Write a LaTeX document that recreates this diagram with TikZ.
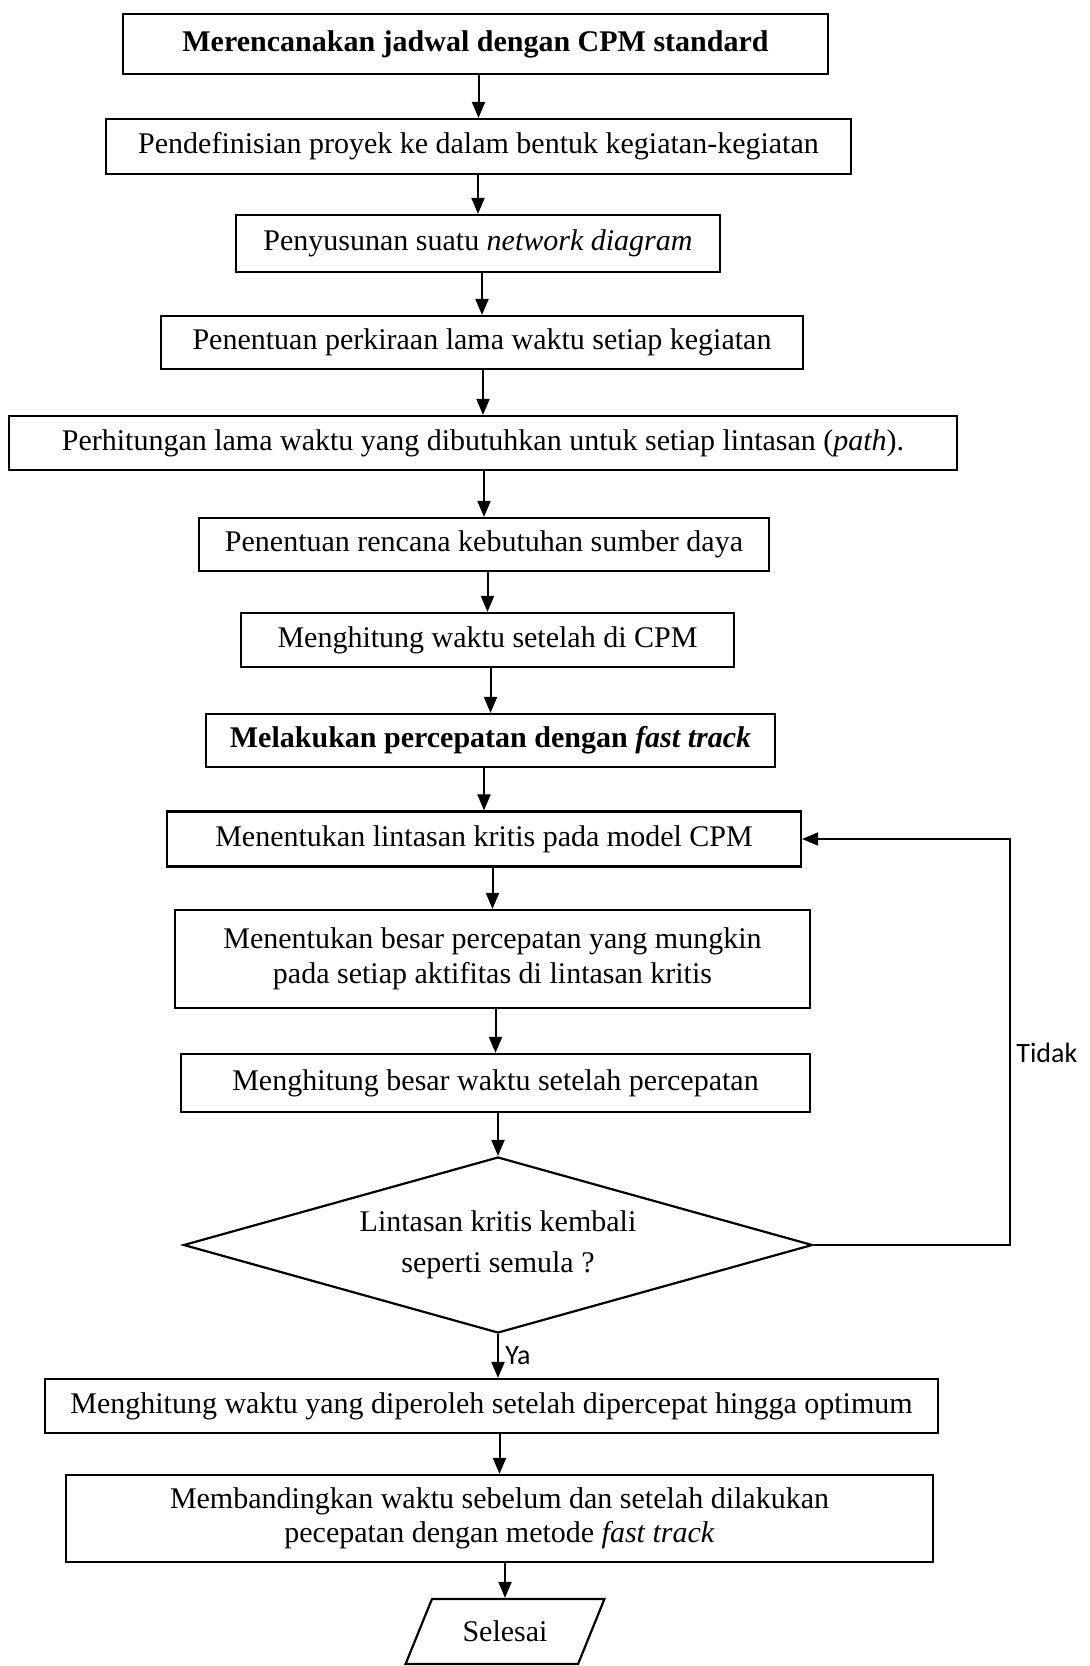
\documentclass[tikz,border=0pt]{standalone}
\usepackage{fontspec}
\setmainfont{Liberation Serif}
\newfontfamily\labelfont{Carlito}
\usetikzlibrary{positioning, shapes.geometric, arrows.meta}
\tikzset{
    block/.style={
        draw, line width=1.1pt,
        inner sep=2pt,
        align=center,
        font=\fontsize{15}{17}\selectfont
    },
    decision/.style={block, diamond, aspect=3.6, inner sep=0pt},
    finish/.style={block, trapezium, trapezium left angle=54,
        trapezium right angle=126, trapezium stretches=true, inner sep=0pt},
    line/.style={line width=1pt, -{Triangle[length=8pt,width=6.5pt]}},
    tag/.style={font=\labelfont\fontsize{14}{16}\selectfont, inner sep=1pt}
}

\begin{document}
\begin{tikzpicture}[x=0.5pt, y=-0.5pt]

    \useasboundingbox (0,0) rectangle (1089,1666);

    % CPM standard
    \node[block, minimum width=352.5pt, minimum height=30pt] (plan) at (475.5,44)
        {\bfseries Merencanakan jadwal dengan CPM standard};
    \node[block, minimum width=372.5pt, minimum height=27.5pt] (define) at (478.5,146.5)
        {Pendefinisian proyek ke dalam bentuk kegiatan-kegiatan};
    \node[block, minimum width=242pt, minimum height=28.5pt] (network) at (478,243.5)
        {Penyusunan suatu \textit{network diagram}};
    \node[block, minimum width=321pt, minimum height=26.5pt] (estimate) at (482,342.5)
        {Penentuan perkiraan lama waktu setiap kegiatan};
    \node[block, minimum width=474pt, minimum height=27pt] (pathtime) at (483,443)
        {Perhitungan lama waktu yang dibutuhkan untuk setiap lintasan (\textit{path}).};
    \node[block, minimum width=285pt, minimum height=26.5pt] (resource) at (484,544.5)
        {Penentuan rencana kebutuhan sumber daya};
    \node[block, minimum width=246.5pt, minimum height=27pt] (cpmtime) at (487.5,640)
        {Menghitung waktu setelah di CPM};

    % Fast track
    \node[block, minimum width=284.5pt, minimum height=26.5pt] (fasttrack) at (490.5,740.5)
        {\bfseries Melakukan percepatan dengan \textit{fast track}};
    \node[block, minimum width=317pt, minimum height=27.5pt] (critical) at (484,839)
        {Menentukan lintasan kritis pada model CPM};
    \node[block, minimum width=317.5pt, minimum height=49pt] (crash) at (492.5,959)
        {Menentukan besar percepatan yang mungkin\\[0.5pt]
         pada setiap aktifitas di lintasan kritis};
    \node[block, minimum width=314.5pt, minimum height=29pt] (newtime) at (495.5,1083)
        {Menghitung besar waktu setelah percepatan};
    \node[decision, minimum width=314.5pt, minimum height=88pt] (check) at (498,1245)
        {Lintasan kritis kembali\\[3.5pt] seperti semula ?};

    % Result
    \node[block, minimum width=446.5pt, minimum height=27pt] (optimum) at (491.5,1406)
        {Menghitung waktu yang diperoleh setelah dipercepat hingga optimum};
    \node[block, minimum width=433.5pt, minimum height=43.5pt] (compare) at (499.5,1518.5)
        {Membandingkan waktu sebelum dan setelah dilakukan\\
         pecepatan dengan metode \textit{fast track}};
    \node[finish, minimum width=100pt, minimum height=32.5pt] (done) at (505,1631.5)
        {Selesai};

    % Arrows
    \draw[line] (plan.south -| define.north) -- (define.north);
    \draw[line] (define.south -| network.north) -- (network.north);
    \draw[line] (network.south -| estimate.north) -- (estimate.north);
    \draw[line] (estimate.south -| pathtime.north) -- (pathtime.north);
    \draw[line] (pathtime.south -| resource.north) -- (resource.north);
    \draw[line] (resource.south -| cpmtime.north) -- (cpmtime.north);
    \draw[line] (cpmtime.south -| fasttrack.north) -- (fasttrack.north);
    \draw[line] (fasttrack.south -| critical.north) -- (critical.north);
    \draw[line] (critical.south -| crash.north) -- (crash.north);
    \draw[line] (crash.south -| newtime.north) -- (newtime.north);
    \draw[line] (newtime.south -| check.north) -- (check.north);
    \draw[line] (check.south) -- (check.south |- optimum.north);
    \draw[line] (optimum.south -| compare.north) -- (compare.north);
    \draw[line] (compare.south -| done.north) -- (done.north);

    % Loop back
    \coordinate (turn) at (1010,1245);
    \draw[line] (check.east) -- (turn) |- (critical.east);
    \node[tag, anchor=west] (no) at (1014,1053) {Tidak};
    \node[tag, anchor=west] (yes) at (503,1356) {Ya};

\end{tikzpicture}
\end{document}
